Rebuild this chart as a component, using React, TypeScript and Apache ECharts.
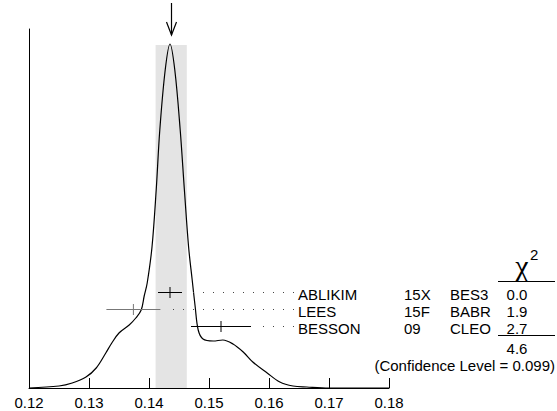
import React, { useEffect, useRef } from "react";
import * as echarts from "echarts";

// Ideogram curve (x value, relative height)
const curveX = [0.12, 0.125, 0.1272, 0.1295, 0.1312, 0.1328, 0.1338, 0.135, 0.1367, 0.1378, 0.1387, 0.1392, 0.1397, 0.1405, 0.1412, 0.1418, 0.1427, 0.1435, 0.1443, 0.1452, 0.1459, 0.1466, 0.1472, 0.1477, 0.1482, 0.149, 0.1507, 0.1523, 0.154, 0.1557, 0.1573, 0.1597, 0.1618, 0.164, 0.1663, 0.17, 0.18];
const curveY = [0, 2, 5, 11, 20, 35, 45, 55, 63, 70, 78, 92, 105, 141, 198, 258, 318, 344, 318, 258, 198, 141, 108, 81, 58, 49, 47, 48, 44, 36, 26, 15, 6, 2, 1, 0, 0];

// Measurements
const authors = ["ABLIKIM", "LEES", "BESSON"];
const years = ["15X", "15F", "09"];
const experiments = ["BES3", "BABR", "CLEO"];
const values = [0.1435, 0.1374, 0.152];
const errors = [0.002, 0.0045, 0.005];
const rowLevels = [96, 79, 62];
const barColors = ["#000000", "#777777", "#000000"];
const chi2 = ["0.0", "1.9", "2.7"];
const chi2Sum = "4.6";
const confidenceLevel = "0.099";

// Weighted average and its error (shaded band)
const mean = 0.1437;
const meanErr = 0.0026;
const bandTop = 343;

const AXIS_MIN = 0.12;
const AXIS_MAX = 0.18;
const AXIS_STEP = 0.01;
const Y_MAX = 359;

const FONT = '"Liberation Sans", Arial, Helvetica, sans-serif';
const FS = 15;

// table columns (pixels)
const COL_NAME = 298;
const COL_YEAR = 404;
const COL_EXP = 450;
const COL_CHI = 517;
const DOT_END = 293;

export default function App() {
  const ref = useRef<HTMLDivElement>(null);
  useEffect(() => {
    if (!ref.current) return;
    const chart = echarts.init(ref.current, null, { renderer: "svg" });

    const measData = values.map((v, i) => [v, errors[i], rowLevels[i], i]);

    const option: any = {
      animation: false,
      textStyle: { fontFamily: FONT },
      grid: { left: 29, right: 168, top: 29, bottom: 23, outerBoundsMode: "none" },
      xAxis: {
        type: "value",
        min: AXIS_MIN,
        max: AXIS_MAX,
        interval: AXIS_STEP,
        axisLine: { show: true, lineStyle: { color: "#000", width: 1 } },
        axisTick: { show: true, inside: true, length: 10, lineStyle: { color: "#000", width: 1 } },
        axisLabel: {
          color: "#000",
          fontSize: FS,
          fontFamily: FONT,
          margin: 7,
          showMinLabel: true,
          showMaxLabel: true,
          formatter: (v: number) => v.toFixed(2),
        },
        splitLine: { show: false },
      },
      yAxis: {
        type: "value",
        min: 0,
        max: Y_MAX,
        axisLine: { show: true, lineStyle: { color: "#000", width: 1 } },
        axisTick: { show: false },
        axisLabel: { show: false },
        splitLine: { show: false },
      },
      series: [
        {
          type: "line",
          data: curveX.map((x, i) => [x, curveY[i]]),
          smooth: 0.35,
          showSymbol: false,
          lineStyle: { color: "#000", width: 1.2 },
          z: 3,
          markArea: {
            silent: true,
            itemStyle: { color: "#e4e4e4" },
            data: [[{ xAxis: mean - meanErr, yAxis: 0 }, { xAxis: mean + meanErr, yAxis: bandTop }]],
          },
        },
        {
          type: "custom",
          z: 5,
          data: measData,
          renderItem: (params: any, api: any) => {
            const v = api.value(0);
            const e = api.value(1);
            const lvl = api.value(2);
            const i = params.dataIndex;
            const c = api.coord([v, lvl]);
            const l = api.coord([v - e, lvl]);
            const r = api.coord([v + e, lvl]);
            const y = Math.round(c[1]) + 0.5;
            const color = barColors[i];
            const children: any[] = [
              { type: "line", shape: { x1: l[0], y1: y, x2: r[0], y2: y }, style: { stroke: color, lineWidth: 1 } },
              { type: "line", shape: { x1: c[0], y1: y - 5.5, x2: c[0], y2: y + 5.5 }, style: { stroke: color, lineWidth: 1 } },
            ];
            for (let x = DOT_END; x >= r[0] + 10; x -= 10) {
              children.push({ type: "rect", shape: { x: x, y: y - 0.5, width: 1, height: 1 }, style: { fill: "#444" } });
            }
            const txt = (t: string, x: number, align: string) => ({
              type: "text",
              style: { text: t, x, y: y + 1.5, fill: "#000", fontSize: FS, fontFamily: FONT, align, verticalAlign: "middle" },
            });
            children.push(txt(authors[i], COL_NAME, "left"));
            children.push(txt(years[i], COL_YEAR, "left"));
            children.push(txt(experiments[i], COL_EXP, "left"));
            children.push(txt(chi2[i], COL_CHI, "center"));
            return { type: "group", children };
          },
        },
        {
          type: "custom",
          z: 5,
          data: [[mean]],
          renderItem: (params: any, api: any) => {
            const x = Math.round(api.coord([api.value(0), 0])[0]) + 0.5;
            return {
              type: "group",
              children: [
                { type: "line", shape: { x1: x, y1: 3, x2: x, y2: 35 }, style: { stroke: "#000", lineWidth: 1.2 } },
                { type: "polyline", shape: { points: [[x - 5, 22], [x, 35], [x + 5, 22]] }, style: { stroke: "#000", fill: null, lineWidth: 1.2 } },
              ],
            };
          },
        },
      ],
      graphic: [
        { type: "text", style: { text: "χ", x: 522, y: 265, fill: "#000", fontSize: 30, fontFamily: '"Liberation Serif", "Times New Roman", serif', align: "center", verticalAlign: "middle" } },
        { type: "text", style: { text: "2", x: 530, y: 254, fill: "#000", fontSize: FS, fontFamily: FONT, align: "left", verticalAlign: "middle" } },
        { type: "line", shape: { x1: 498, y1: 281.5, x2: 555, y2: 281.5 }, style: { stroke: "#000", lineWidth: 1 } },
        { type: "line", shape: { x1: 498, y1: 335.5, x2: 555, y2: 335.5 }, style: { stroke: "#000", lineWidth: 1 } },
        { type: "text", style: { text: chi2Sum, x: COL_CHI, y: 348, fill: "#000", fontSize: FS, fontFamily: FONT, align: "center", verticalAlign: "middle" } },
        { type: "text", style: { text: "(Confidence Level = " + confidenceLevel + ")", x: 555, y: 365, fill: "#000", fontSize: FS, fontFamily: FONT, align: "right", verticalAlign: "middle" } },
      ],
    };
    chart.setOption(option);
    return () => chart.dispose();
  }, []);
  return <div ref={ref} style={{ position: "fixed", left: 0, top: 0, width: 557, height: 411, background: "#fff" }} />;
}
